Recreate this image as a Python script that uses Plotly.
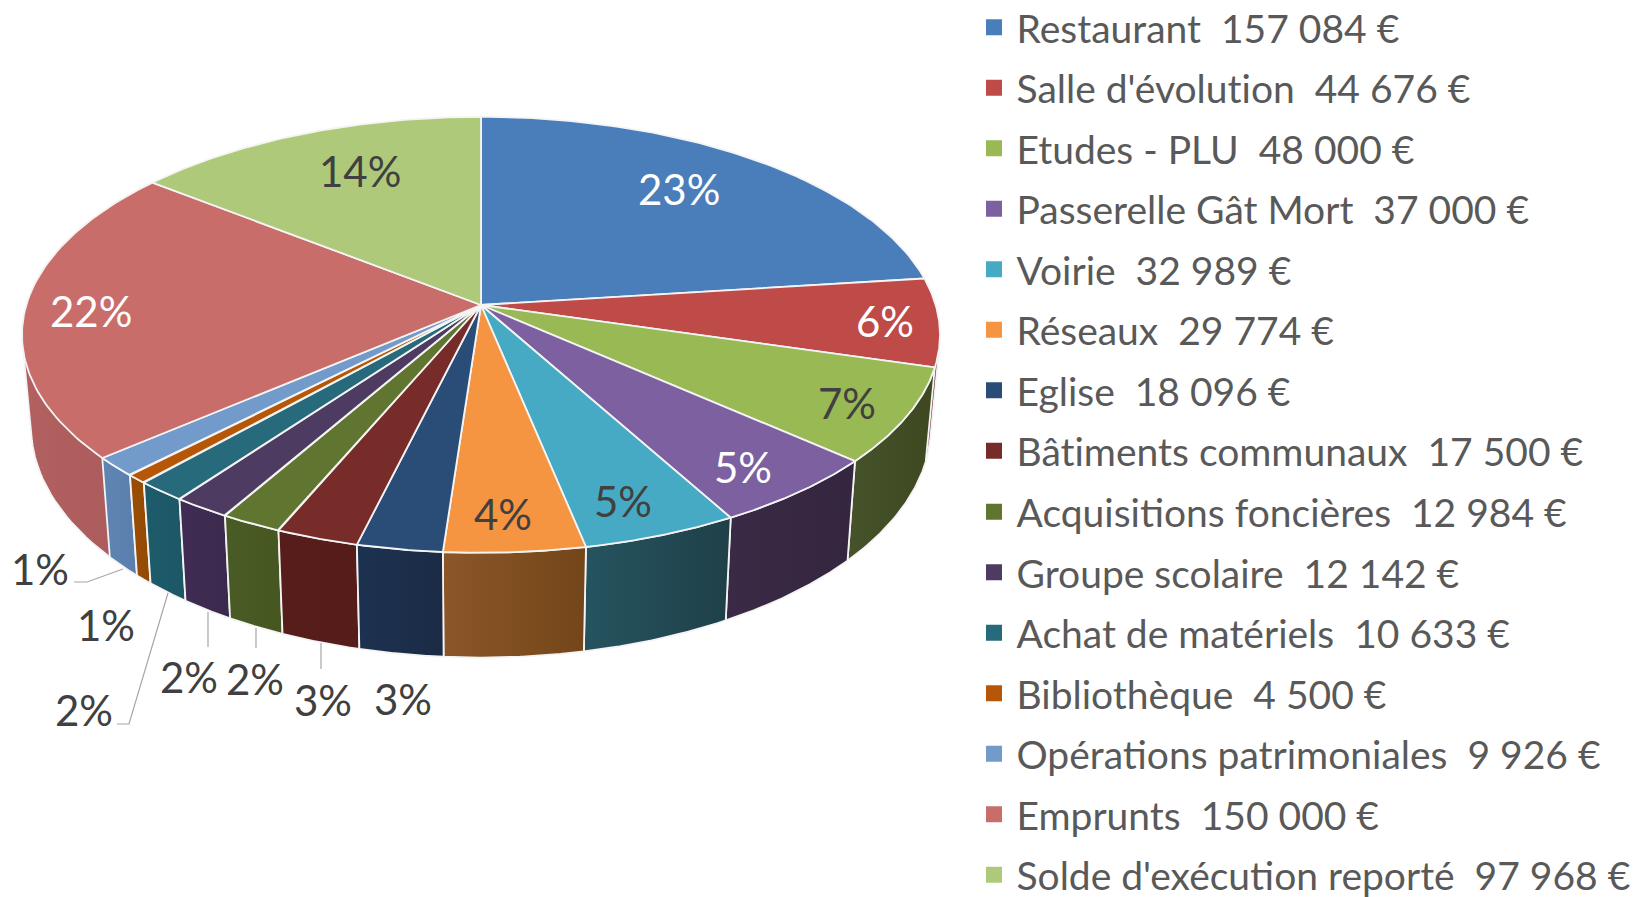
import numpy as np
import plotly.graph_objects as go

categories = ["Restaurant", "Salle d'évolution", "Etudes - PLU", "Passerelle Gât Mort", "Voirie", "Réseaux",
              "Eglise", "Bâtiments communaux", "Acquisitions foncières", "Groupe scolaire", "Achat de matériels",
              "Bibliothèque", "Opérations patrimoniales", "Emprunts", "Solde d'exécution reporté"]
values = [157084, 44676, 48000, 37000, 32989, 29774, 18096, 17500, 12984, 12142, 10633, 4500, 9926, 150000, 97968]
percent_labels = ["23%", "6%", "7%", "5%", "5%", "4%", "3%", "3%", "2%", "2%", "2%", "1%", "1%", "22%", "14%"]
top_colors = ["#4a7ebb", "#be4b48", "#98b954", "#7d60a0", "#46aac5", "#f59542", "#2a4d78", "#772c2a",
              "#5f7530", "#4d3b62", "#276a7c", "#b65708", "#729aca", "#c96d6b", "#afc97a"]
wall_left = ["#3a6290", "#7a3431", "#46522a", "#3a2a45", "#25545f", "#8c5628", "#1c3250", "#571d1b",
             "#4a5c25", "#402c55", "#1d5c6b", "#9a4c05", "#5f85b3", "#b26060", "#7f9a50"]
wall_right = ["#3a6290", "#6a2c2a", "#3d4820", "#35263f", "#1f4049", "#734619", "#1b2b45", "#561c1a",
              "#465621", "#3b2a4d", "#1c5766", "#944a03", "#5a7fae", "#a95a5a", "#7f9a50"]
label_colors = ["white", "white", "#404040", "white", "#404040", "#404040", "#404040", "#404040", "#404040",
                "#404040", "#404040", "#404040", "#404040", "white", "#404040"]
label_xy = [(679, 189), (885, 321), (847, 403), (743, 467), (623, 501), (503, 514), (403, 699), (323, 700),
            (255, 679), (189, 677), (84, 710), (106, 625), (40, 569), (91, 311), (360, 171)]
leaders = [[(74, 582), (87, 582), (123, 569)], [(117, 724), (129, 724), (168, 593)],
           [(208, 612), (208, 647)], [(256, 628), (256, 648)], [(321, 643), (321, 669)]]

FONT = "Lato, Carlito, Calibri, sans-serif"
CX, CY, A, B, K = 481.0, 305.0, 454.7, 213.9, 0.1367
SX, SY, DROP = 0.98, 1.058, 90.4
SILHOUETTE_WALLS = {1, 13}
FIRST_LEGEND_ROWS = 8


def top_xy(theta):
    X, Y = np.sin(theta), np.cos(theta)
    w = 1 + K * Y
    return CX + A * X / w, CY - B * Y / w


def low_xy(theta):
    x, y = top_xy(theta)
    return CX + SX * (x - CX), CY + SY * (y - CY) + DROP


def hull(xs, ys):
    pts = sorted(set(zip(xs.tolist(), ys.tolist())))

    def half(seq):
        out = []
        for p in seq:
            while len(out) > 1 and ((out[-1][0] - out[-2][0]) * (p[1] - out[-2][1])
                                    - (out[-1][1] - out[-2][1]) * (p[0] - out[-2][0])) <= 0:
                out.pop()
            out.append(p)
        return out[:-1]

    ring = half(pts) + half(pts[::-1])
    ring.append(ring[0])
    return [p[0] for p in ring], [p[1] for p in ring]


fracs = np.array(values, dtype=float) / sum(values)
edges = np.concatenate([[0], np.cumsum(fracs)]) * 2 * np.pi

fig = go.Figure()
BORDER = dict(color="#f4f4f4", width=1.8)

# side walls, rear to front on each side of the front point
order = [1, 2, 3, 4, 5, 13, 12, 11, 10, 9, 8, 7, 6]
for i in order:
    th = np.linspace(edges[i], edges[i + 1], 60)
    xt, yt = top_xy(th)
    xl, yl = low_xy(th[::-1])
    if i in SILHOUETTE_WALLS:
        wx, wy = hull(np.r_[xt, xl], np.r_[yt, yl])
    else:
        wx, wy = np.r_[xt, xl, xt[0]], np.r_[yt, yl, yt[0]]
    fig.add_trace(go.Scatter(x=wx, y=wy, mode="lines", fill="toself",
                             line=BORDER, hoverinfo="skip", showlegend=False,
                             fillgradient=dict(type="horizontal",
                                               colorscale=[[0, wall_left[i]], [1, wall_right[i]]])))
# top faces
for i in range(len(values)):
    th = np.linspace(edges[i], edges[i + 1], 80)
    xt, yt = top_xy(th)
    fig.add_trace(go.Scatter(x=np.r_[CX, xt, CX], y=np.r_[CY, yt, CY], mode="lines", fill="toself",
                             fillcolor=top_colors[i], line=BORDER, hoverinfo="text",
                             text=f"{categories[i]}: {percent_labels[i]}", showlegend=False))
# legend entries: two stacked legends, since a single one taller than the plot would scroll
for i, c in enumerate(categories):
    amount = f"{values[i]:,}".replace(",", " ")
    fig.add_trace(go.Scatter(x=[None], y=[None], mode="markers", name=f"{c}  {amount} €", legendgroup=c,
                             legend="legend" if i < FIRST_LEGEND_ROWS else "legend2",
                             marker=dict(symbol="square", size=16, color=top_colors[i])))

for pts in leaders:
    xs, ys = zip(*pts)
    fig.add_trace(go.Scatter(x=xs, y=ys, mode="lines", line=dict(color="#a6a6a6", width=1.2),
                             hoverinfo="skip", showlegend=False))

annotations = [dict(x=p[0], y=p[1], text=t, showarrow=False, xref="x", yref="y", xanchor="center", yanchor="middle",
                    font=dict(family=FONT, size=42, color=c))
               for p, t, c in zip(label_xy, percent_labels, label_colors)]

legend_style = dict(x=971.5 / 1639, xanchor="left", bgcolor="rgba(0,0,0,0)", borderwidth=0,
                    itemwidth=35, tracegroupgap=6.8, font=dict(family=FONT, size=39, color="#595959"),
                    traceorder="grouped")

fig.update_layout(
    width=1639, height=897, margin=dict(l=0, r=0, t=0, b=0, autoexpand=False),
    paper_bgcolor="white", plot_bgcolor="white",
    xaxis=dict(visible=False, range=[0, 1639], fixedrange=True),
    yaxis=dict(visible=False, range=[897, 0], fixedrange=True),
    annotations=annotations,
    legend=dict(y=1 - 483.5 / 897, yanchor="bottom", **legend_style),
    legend2=dict(y=1 - 480 / 897, yanchor="top", **legend_style),
)
fig.write_html("out.html", config={"displayModeBar": False},
               post_script="document.body.style.margin='0';document.body.style.overflow='hidden';"
                           "var s=document.createElement('style');"
                           "s.textContent='.legendtext{font-variant-ligatures:none !important;"
                           "font-feature-settings:\"liga\" 0,\"clig\" 0 !important;}';"
                           "document.head.appendChild(s);")
